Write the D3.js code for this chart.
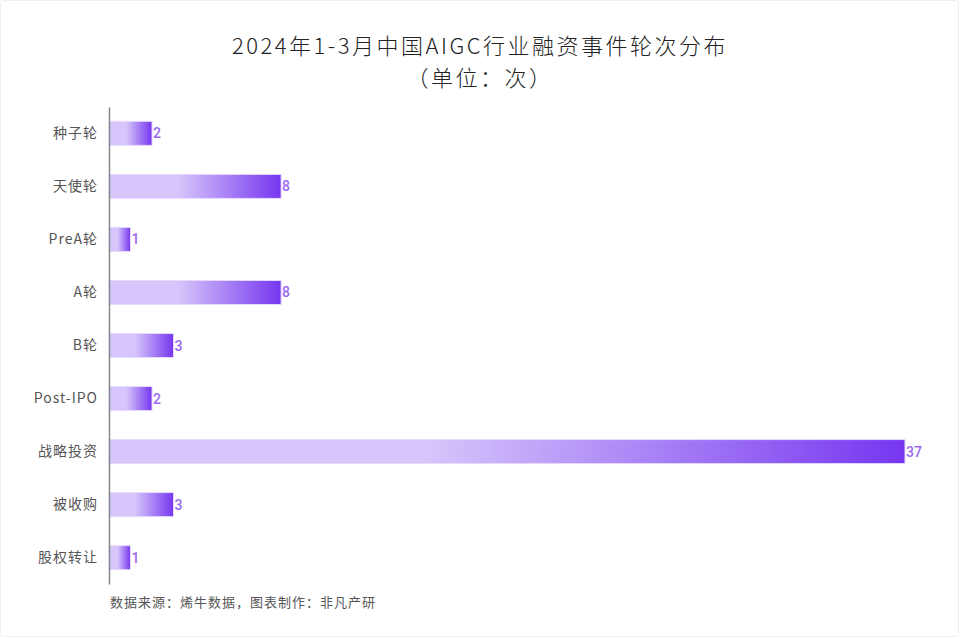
<!DOCTYPE html>
<html><head><meta charset="utf-8">
<script src="https://cdn.jsdelivr.net/npm/d3@7/dist/d3.min.js"></script>
<style>
html,body{margin:0;padding:0;background:#fff;}
svg{display:block;font-family:"Noto Sans CJK SC","Noto Sans",sans-serif;}
</style></head><body>
<script>
const categories = ["种子轮","天使轮","PreA轮","A轮","B轮","Post-IPO","战略投资","被收购","股权转让"];
const values = [2,8,1,8,3,2,37,3,1];
const titleLines = ["2024年1-3月中国AIGC行业融资事件轮次分布","（单位：次）"];
const sourceText = "数据来源：烯牛数据，图表制作：非凡产研";

const W = 960, H = 638;
const svg = d3.select("body").append("svg").attr("width", W).attr("height", H);

svg.append("rect").attr("x",0.5).attr("y",0.5).attr("width",W-2).attr("height",H-2)
  .attr("rx",3).attr("fill","#fff").attr("stroke","#efefef");

const defs = svg.append("defs");
const grad = defs.append("linearGradient").attr("id","barGrad")
  .attr("x1","0%").attr("x2","100%").attr("y1","0%").attr("y2","0%");
grad.append("stop").attr("offset","0%").attr("stop-color","#d6c6fb");
grad.append("stop").attr("offset","40%").attr("stop-color","#d6c6fb");
grad.append("stop").attr("offset","100%").attr("stop-color","#7636f0");

const x = d3.scaleLinear().domain([0,37]).range([109,905]);
const y = d3.scaleBand().domain(categories).range([107,584]).paddingInner(0.547).paddingOuter(0.27);

// title
svg.append("g").selectAll("text").data(titleLines).join("text")
  .attr("x",480).attr("y",(d,i)=>54+i*32).attr("text-anchor","middle")
  .attr("font-size",22).attr("font-weight",300).attr("letter-spacing","2.5px")
  .attr("fill","#222").text(d=>d);

// bars
svg.append("g").selectAll("rect").data(values).join("rect")
  .attr("x",x(0)).attr("y",(d,i)=>y(categories[i]))
  .attr("width",d=>x(d)-x(0)).attr("height",y.bandwidth())
  .attr("fill","url(#barGrad)").attr("stroke","#e6dafd").attr("stroke-width",1);

// value labels
svg.append("g").selectAll("text").data(values).join("text")
  .attr("x",d=>x(d)+1).attr("y",(d,i)=>y(categories[i])+y.bandwidth()/2)
  .attr("dy","0.36em").attr("font-size",14).attr("font-weight",500).attr("fill","#9a6af2")
  .attr("font-family","Roboto,'Noto Sans',sans-serif").text(d=>d);

// axis
const axis = d3.axisLeft(y).tickSize(0).tickPadding(11);
const ag = svg.append("g").attr("transform",`translate(${x(0)},0)`).call(axis);
ag.select(".domain").attr("stroke","#888").attr("stroke-width",1.5);
ag.selectAll(".tick text").attr("font-size",14).attr("fill","#555")
  .attr("letter-spacing","1px")
  .attr("font-family","'Noto Sans CJK SC','Noto Sans',sans-serif");

// source
svg.append("text").attr("x",110).attr("y",607).attr("font-size",13).attr("letter-spacing","1px")
  .attr("fill","#555").text(sourceText);
</script>
</body></html>
